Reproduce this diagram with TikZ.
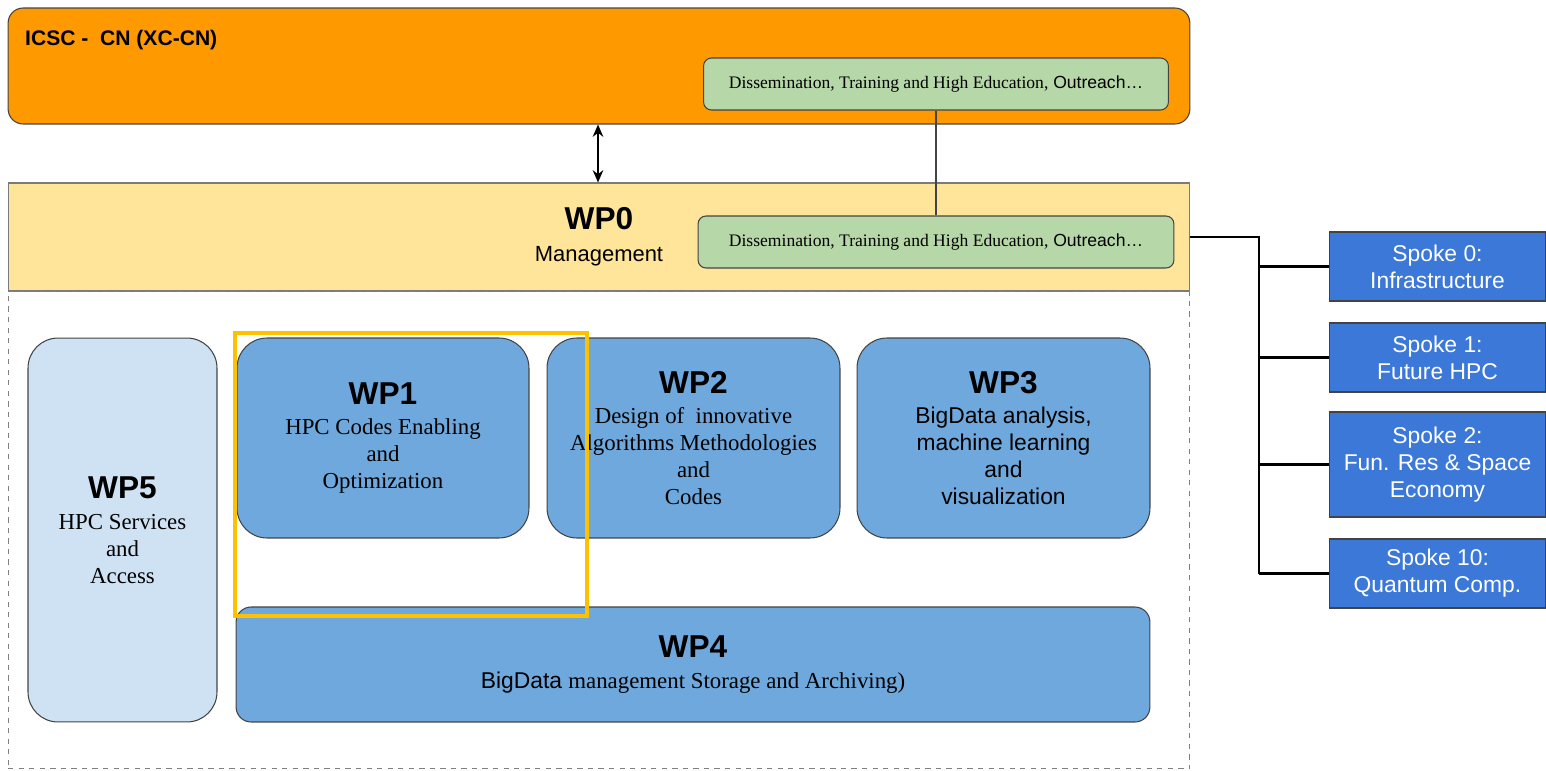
\documentclass[tikz,border=0pt]{standalone}
\usepackage{fontspec}
\setmainfont{Liberation Sans}
\newfontfamily\tms{Liberation Serif}
\usetikzlibrary{arrows.meta}

\definecolor{icscorange}{HTML}{FF9900}
\definecolor{dissgreen}{HTML}{B6D7A8}
\definecolor{mgmtyellow}{HTML}{FFE599}
\definecolor{wplight}{HTML}{CFE2F3}
\definecolor{wpblue}{HTML}{6FA8DC}
\definecolor{spokeblue}{HTML}{3C78D8}
\definecolor{boxline}{HTML}{434343}
\definecolor{hlyellow}{HTML}{FFC000}

\newcommand{\wpfont}{\fontsize{18}{21}\selectfont\bfseries}
\newcommand{\txtfont}{\fontsize{13}{15.4}\selectfont}

\tikzset{
    wpbox/.style={draw=boxline, line width=0.6pt, rounded corners=0.6cm, fill=wpblue,
        align=center, inner sep=0pt, font=\txtfont},
    dissbox/.style={draw=boxline, line width=0.6pt, rounded corners=0.16cm, fill=dissgreen,
        minimum width=9.3cm, minimum height=1.04cm, inner sep=0pt, font=\fontsize{10}{12}\selectfont},
    spokebox/.style={draw=boxline, line width=0.6pt, fill=spokeblue, text=white,
        minimum width=4.34cm, align=center, inner sep=0pt, font=\txtfont},
    wire/.style={line width=1.2pt, black}
}

\begin{document}
\begin{tikzpicture}[x=0.02cm, y=-0.02cm]
    \useasboundingbox (0,0) rectangle (1546,771);

    % === ICSC - CN ===
    \node[draw=boxline, line width=0.6pt, rounded corners=0.3cm, fill=icscorange,
        minimum width=23.64cm, minimum height=2.32cm] (icsc) at (599,66) {};
    \node[anchor=west, font=\fontsize{12}{14}\selectfont\bfseries] (icsctitle) at (19,40) {ICSC -\ \ CN (XC-CN)};
    \node[dissbox] (diss1) at (936,84) {{\tms Dissemination, Training and High Education,} Outreach…};

    % === WP0 ===
    \node[draw=boxline!70, line width=0.6pt, fill=mgmtyellow, align=center,
        minimum width=23.64cm, minimum height=2.16cm] (wp0) at (599,237)
        {{\wpfont WP0}\\[6pt]{\fontsize{12.5}{15}\selectfont Management}};
    \node[dissbox, minimum width=9.52cm] (diss2) at (936,242) {{\tms Dissemination, Training and High Education,} Outreach…};

    \draw[{Stealth[length=7pt,width=6pt]}-{Stealth[length=7pt,width=6pt]}, line width=1pt] (icsc.south -| 598,0) -- (wp0.north -| 598,0);
    \draw[boxline, line width=0.6pt] (diss1.south) -- (diss2.north);

    % === Work packages ===
    \node[draw=gray, dashed, line width=0.6pt, minimum width=23.64cm, minimum height=9.56cm] (wparea) at (599,530) {};

    \node[wpbox, fill=wplight, minimum width=3.78cm, minimum height=7.68cm] (wp5) at (122.5,530)
        {{\wpfont WP5}\\[2pt]{\tms HPC Services}\\{\tms and}\\{\tms Access}};
    \node[wpbox, minimum width=5.84cm, minimum height=4cm] (wp1) at (383,438)
        {{\wpfont WP1}\\[2pt]{\tms HPC Codes Enabling}\\{\tms and}\\{\tms Optimization}};
    \node[wpbox, minimum width=5.86cm, minimum height=4cm] (wp2) at (693.5,438)
        {{\wpfont WP2}\\[2pt]{\tms Design of\ \ innovative}\\{\tms Algorithms Methodologies}\\{\tms and}\\{\tms Codes}};
    \node[wpbox, minimum width=5.86cm, minimum height=4cm] (wp3) at (1003.5,438)
        {{\wpfont WP3}\\[2pt]BigData analysis,\\machine learning\\and\\visualization};
    \node[wpbox, rounded corners=0.3cm, minimum width=18.28cm, minimum height=2.3cm] (wp4) at (693,664.5)
        {{\wpfont WP4}\\[2pt]BigData {\tms management Storage and Archiving)}};

    % riquadro evidenziato
    \draw[hlyellow, line width=2.4pt] (235,333) rectangle (587,616);

    % === Spokes ===
    \node[spokebox, minimum height=1.38cm] (s0) at (1437.5,266.5) {Spoke 0:\\Infrastructure};
    \node[spokebox, minimum height=1.38cm] (s1) at (1437.5,357.5) {Spoke 1:\\Future HPC};
    \node[spokebox, minimum height=2.1cm] (s2) at (1437.5,464.5) {Spoke 2:\\Fun. Res \& Space\\Economy};
    \node[spokebox, minimum height=1.38cm] (s10) at (1437.5,573.5) {Spoke 10:\\Quantum Comp.};

    \coordinate (bus) at (1259,237);
    \draw[wire, line width=1.6pt] (wp0.east) -- (bus) -- (bus |- s10.west);
    \foreach \s in {s0,s1,s2,s10}
        \draw[wire] (bus |- \s.west) -- (\s.west);
\end{tikzpicture}
\end{document}
